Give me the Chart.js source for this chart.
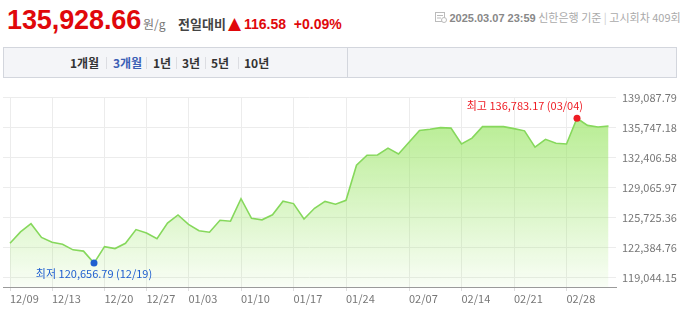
<!DOCTYPE html>
<html><head><meta charset="utf-8">
<script src="https://cdn.jsdelivr.net/npm/chart.js@4/dist/chart.umd.min.js"></script>
<style>
html,body{margin:0;padding:0;background:#fff;width:680px;height:315px;overflow:hidden;font-family:"Noto Sans CJK KR","Liberation Sans",sans-serif;}
.abs{position:absolute;white-space:nowrap;}
#price{left:7px;top:4px;font:bold 27px/32px "Liberation Sans",Arial,sans-serif;color:#e0080b;letter-spacing:-0.1px;}
#unit{left:143px;top:16px;font:12px/16px "Noto Sans CJK KR",sans-serif;color:#777;}
#cmp{left:178px;top:15px;font:bold 13px/18px "Noto Sans CJK KR",sans-serif;color:#444;}
#tri{left:228px;top:12px;font:17px/22px "DejaVu Sans",sans-serif;color:#e0080b;}
#chg{left:244px;top:15px;font:bold 14px/18px "Liberation Sans",Arial,sans-serif;color:#e0080b;}
#info{left:435px;top:9px;font:11px/16px "Noto Sans CJK KR",sans-serif;color:#aaa;}
#info b{color:#888;font-weight:bold;font-family:"Liberation Sans",Arial,sans-serif;}
#tabs{left:3px;top:47px;width:672px;height:29px;background:#f4f5f8;border:1px solid #d3d6dd;}
#divider{left:347px;top:47px;width:1px;height:31px;background:#d3d6dd;}
.tab{top:54px;font:bold 12px/18px "Noto Sans CJK KR",sans-serif;color:#333;}
.sep{top:57px;width:1px;height:12px;background:#dcdde2;}
#chartbox{left:0;top:85px;width:680px;height:230px;}
</style></head>
<body>
<div id="price" class="abs">135,928.66</div>
<div id="unit" class="abs">원/g</div>
<div id="cmp" class="abs">전일대비</div>
<div id="tri" class="abs">▲</div>
<div id="chg" class="abs">116.58&nbsp;&nbsp;+0.09%</div>
<div id="info" class="abs"><svg width="12" height="11" style="vertical-align:-1px"><rect x="0.5" y="0.5" width="9" height="9" fill="none" stroke="#bbb"/><line x1="2" y1="3.5" x2="8" y2="3.5" stroke="#bbb"/><line x1="2" y1="6" x2="6" y2="6" stroke="#bbb"/><circle cx="9" cy="8" r="2.5" fill="#fff" stroke="#bbb"/></svg> <b>2025.03.07 23:59</b> 신한은행 기준 <span style="color:#ccc">|</span> 고시회차 409회</div>
<div id="tabs" class="abs"></div>
<div id="divider" class="abs"></div>
<div class="abs tab" style="left:70px">1개월</div>
<div class="abs sep" style="left:106px"></div>
<div class="abs tab" style="left:113px;color:#3b5fb5">3개월</div>
<div class="abs sep" style="left:146px"></div>
<div class="abs tab" style="left:153px">1년</div>
<div class="abs sep" style="left:176px"></div>
<div class="abs tab" style="left:182px">3년</div>
<div class="abs sep" style="left:205px"></div>
<div class="abs tab" style="left:211px">5년</div>
<div class="abs sep" style="left:238px"></div>
<div class="abs tab" style="left:244px">10년</div>
<div id="chartbox" class="abs"><canvas id="c" width="680" height="230"></canvas></div>
<script>
const dates = ['12/09','12/10','12/11','12/12','12/13','12/16','12/17','12/18','12/19','12/20',
 '12/23','12/24','12/26','12/27','12/30','12/31','01/02','01/03','01/06','01/07',
 '01/08','01/09','01/10','01/13','01/14','01/15','01/16','01/17','01/20','01/21',
 '01/22','01/23','01/24','01/31','02/03','02/04','02/05','02/06','02/07','02/10',
 '02/11','02/12','02/13','02/14','02/17','02/18','02/19','02/20','02/21','02/24',
 '02/25','02/26','02/27','02/28','03/04','03/05','03/06','03/07'];
const prices = [122859,124123,125037,123512,122968,122750,122129,121988,120656.79,122489,
 122271,122859,124384,124013,123360,125103,126018,124961,124253,124090,
 125429,125321,127826,125636,125473,126028,127542,127281,125560,126758,
 127521,127216,127651,131551,132662,132694,133457,132803,134110,135417,
 135559,135744,135690,133925,134579,135853,135870,135853,135635,135385,
 133566,134437,134001,133925,136783.17,135995,135812.08,135928.66];
const yTicks = [119044.15,122384.76,125725.36,129065.97,132406.58,135747.18,139087.79];
const xTickDates = ['12/09','12/13','12/20','12/27','01/03','01/10','01/17','01/24','02/07','02/14','02/21','02/28'];
const maxLabel = '최고';
const minLabel = '최저';

const maxIdx = prices.indexOf(Math.max(...prices));
const minIdx = prices.indexOf(Math.min(...prices));
const fmt = v => v.toLocaleString('en-US',{minimumFractionDigits:2,maximumFractionDigits:2});
const FONT = '"Noto Sans CJK KR","Liberation Sans",sans-serif';

const markPlugin = {
  id:'marks',
  afterDatasetsDraw(chart){
    const ctx = chart.ctx;
    const meta = chart.getDatasetMeta(0);
    const items = [
      {i:maxIdx, color:'#ee1c24', text:maxLabel+' '+fmt(prices[maxIdx])+' ('+dates[maxIdx]+')', dy:-12, align:'right', dx:6},
      {i:minIdx, color:'#1f5fd0', text:minLabel+' '+fmt(prices[minIdx])+' ('+dates[minIdx]+')', dy:11, align:'center', dx:0}
    ];
    ctx.save();
    items.forEach(it=>{
      const p = meta.data[it.i];
      ctx.fillStyle = it.color;
      ctx.beginPath(); ctx.arc(p.x, p.y, 3.5, 0, Math.PI*2); ctx.fill();
      ctx.font = '11px '+FONT;
      ctx.textAlign = it.align;
      ctx.textBaseline = 'middle';
      ctx.fillStyle = it.color;
      ctx.fillText(it.text, p.x+it.dx, p.y+it.dy);
    });
    ctx.restore();
  }
};

new Chart(document.getElementById('c'), {
  type:'line',
  data:{
    datasets:[{
      data: prices.map((v,i)=>({x:i,y:v})),
      borderColor:'#86d85c',
      borderWidth:1.6,
      pointRadius:0,
      tension:0,
      fill:'start',
      backgroundColor(ctx){
        const a = ctx.chart.chartArea;
        if(!a) return 'rgba(150,228,95,0.4)';
        const g = ctx.chart.ctx.createLinearGradient(0,a.top,0,a.bottom);
        g.addColorStop(0,'rgba(150,228,95,0.75)');
        g.addColorStop(1,'rgba(150,228,95,0.06)');
        return g;
      }
    }]
  },
  options:{
    responsive:false,
    animation:false,
    devicePixelRatio:1,
    layout:{padding:{left:3,top:8,right:0,bottom:0}},
    plugins:{legend:{display:false},tooltip:{enabled:false}},
    scales:{
      x:{
        type:'linear',
        min:-0.667, max:57.714,
        afterBuildTicks(s){ s.ticks = xTickDates.map(d=>({value:dates.indexOf(d)})); },
        afterFit(s){ s.height = 28; },
        ticks:{
          align:'start', padding:1, maxRotation:0, autoSkip:false,
          color:'#777', font:{size:11,family:FONT},
          callback:v=>dates[v]
        },
        grid:{color:'#ececec', lineWidth:1, tickLength:4, drawTicks:true, tickColor:'#ddd'},
        border:{display:true, color:'#9a9a9a', width:1}
      },
      y:{
        position:'right',
        min:117990, max:139087.79,
        afterBuildTicks(s){ s.ticks = yTicks.map(v=>({value:v})); },
        afterFit(s){ s.width = 64; },
        ticks:{
          padding:6, color:'#777', font:{size:11,family:FONT},
          callback:v=>fmt(v)
        },
        grid:{color:'#ececec', lineWidth:1, drawTicks:false},
        border:{display:false}
      }
    }
  },
  plugins:[markPlugin]
});
</script>
</body></html>
